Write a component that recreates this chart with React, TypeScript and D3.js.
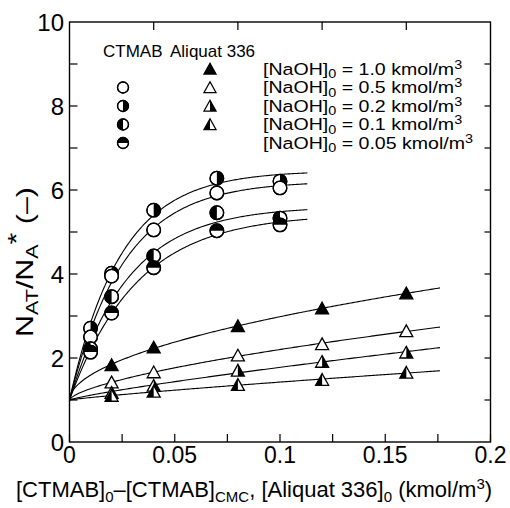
import React from "react";
import * as d3 from "d3";

// ---- data ----
const ctmabX = [0.01, 0.02, 0.04, 0.07, 0.1];
const ctmab02 = [2.71, 4.02, 5.52, 6.28, 6.21]; // [NaOH]0 = 0.2
const ctmab05 = [2.5, 3.95, 5.05, 5.93, 6.05]; // [NaOH]0 = 0.5
const ctmab01 = [2.22, 3.46, 4.43, 5.46, 5.33]; // [NaOH]0 = 0.1
const ctmab005 = [2.14, 3.07, 4.15, 5.03, 5.17]; // [NaOH]0 = 0.05

const aliquatX = [0.02, 0.04, 0.08, 0.12, 0.16];
const aliquat10 = [1.83, 2.25, 2.76, 3.18, 3.54];
const aliquat05 = [1.42, 1.66, 2.06, 2.33, 2.64];
const aliquat02 = [1.17, 1.34, 1.7, 1.91, 2.13];
const aliquat01 = [1.1, 1.2, 1.36, 1.48, 1.65];

const legendConc = ["1.0", "0.5", "0.2", "0.1", "0.05"];
const xTickLabels = [0, 0.05, 0.1, 0.15, 0.2];
const yTickLabels = [0, 2, 4, 6, 8, 10];

const ctmabEnd = 0.113;
const aliquatEnd = 0.176;

// ---- layout ----
const W = 510, H = 508;
const L = 69.5, R = 490.5, T = 22, B = 442;
const FONT = "'Liberation Sans', Arial, Helvetica, sans-serif";

const x = d3.scaleLinear().domain([0, 0.2]).range([L, R]);
const y = d3.scaleLinear().domain([0, 10]).range([B, T]);

// least squares fit y = 1 + A(1-exp(-k x))
function fitExp(xs: number[], ys: number[]) {
  let best = { k: 1, A: 0, e: Infinity };
  for (let k = 1; k <= 150; k += 0.25) {
    let num = 0, den = 0;
    xs.forEach((xv, i) => { const f = 1 - Math.exp(-k * xv); num += f * (ys[i] - 1); den += f * f; });
    const A = num / den;
    let e = 0;
    xs.forEach((xv, i) => { const r = 1 + A * (1 - Math.exp(-k * xv)) - ys[i]; e += r * r; });
    if (e < best.e) best = { k, A, e };
  }
  return (xv: number) => 1 + best.A * (1 - Math.exp(-best.k * xv));
}
// least squares fit y = 1 + a x^n
function fitPow(xs: number[], ys: number[]) {
  let best = { n: 1, a: 0, e: Infinity };
  for (let n = 0.2; n <= 1.2; n += 0.005) {
    let num = 0, den = 0;
    xs.forEach((xv, i) => { const f = Math.pow(xv, n); num += f * (ys[i] - 1); den += f * f; });
    const a = num / den;
    let e = 0;
    xs.forEach((xv, i) => { const r = 1 + a * Math.pow(xv, n) - ys[i]; e += r * r; });
    if (e < best.e) best = { n, a, e };
  }
  return (xv: number) => 1 + best.a * Math.pow(xv, best.n);
}

const line = d3.line<[number, number]>().x(d => x(d[0])).y(d => y(d[1]));
function curvePath(f: (v: number) => number, end: number) {
  const pts: [number, number][] = d3.range(0, 201).map(i => { const v = (end * i) / 200; return [v, f(v)]; });
  return line(pts) || "";
}

type Fill = "open" | "full" | "right" | "left" | "top";

function Circle({ cx, cy, r, fill }: { cx: number; cy: number; r: number; fill: Fill }) {
  let half = "";
  if (fill === "right") half = `M0,${-r} A${r},${r} 0 0 1 0,${r} Z`;
  if (fill === "left") half = `M0,${-r} A${r},${r} 0 0 0 0,${r} Z`;
  if (fill === "top") half = `M${-r},0 A${r},${r} 0 0 1 ${r},0 Z`;
  return (
    <g transform={`translate(${cx},${cy})`}>
      <circle r={r} fill={fill === "full" ? "#000" : "#fff"} stroke="#000" strokeWidth={1.3} />
      {half && <path d={half} fill="#000" />}
      <circle r={r} fill="none" stroke="#000" strokeWidth={1.3} />
    </g>
  );
}

function Tri({ cx, cy, s, fill }: { cx: number; cy: number; s: number; fill: Fill }) {
  const hw = s / 2, top = -s * 0.48, bot = s * 0.42;
  const outline = `M0,${top} L${hw},${bot} L${-hw},${bot} Z`;
  let half = "";
  if (fill === "right") half = `M0,${top} L${hw},${bot} L0,${bot} Z`;
  if (fill === "left") half = `M0,${top} L${-hw},${bot} L0,${bot} Z`;
  return (
    <g transform={`translate(${cx},${cy})`}>
      <path d={outline} fill={fill === "full" ? "#000" : "#fff"} stroke="#000" strokeWidth={1.3} strokeLinejoin="miter" />
      {half && <path d={half} fill="#000" />}
    </g>
  );
}

const ctmabSeries: { ys: number[]; fill: Fill }[] = [
  { ys: ctmab02, fill: "right" },
  { ys: ctmab05, fill: "open" },
  { ys: ctmab01, fill: "left" },
  { ys: ctmab005, fill: "top" },
];
const aliquatSeries: { ys: number[]; fill: Fill }[] = [
  { ys: aliquat10, fill: "full" },
  { ys: aliquat05, fill: "open" },
  { ys: aliquat02, fill: "right" },
  { ys: aliquat01, fill: "left" },
];
const legendCircle: (Fill | null)[] = [null, "open", "right", "left", "top"];
const legendTri: (Fill | null)[] = ["full", "open", "right", "left", null];

export default function App() {
  const bottomTicks = d3.range(0, 0.2001, 0.025);
  const topTicks = d3.range(0.04, 0.2, 0.04);
  const yTicks = d3.range(1, 10, 1);
  const rowY = [69, 87.5, 106, 124.5, 143];
  return (
    <svg width={W} height={H} style={{ position: "absolute", left: 0, top: 0, background: "#fff" }} fontFamily={FONT}>
      <rect x={0} y={0} width={W} height={H} fill="#fff" />
      {/* frame */}
      <rect x={L} y={T} width={R - L} height={B - T} fill="none" stroke="#000" strokeWidth={1.4} />
      {bottomTicks.map((t, i) => (
        <line key={"b" + i} x1={x(t)} x2={x(t)} y1={B} y2={B - 8} stroke="#000" strokeWidth={1.2} />
      ))}
      {topTicks.map((t, i) => (
        <line key={"t" + i} x1={x(t)} x2={x(t)} y1={T} y2={T + 8} stroke="#000" strokeWidth={1.2} />
      ))}
      {yTicks.map((t, i) => (
        <g key={"y" + i}>
          <line x1={L} x2={L + 8} y1={y(t)} y2={y(t)} stroke="#000" strokeWidth={1.2} />
          <line x1={R} x2={R - 6} y1={y(t)} y2={y(t)} stroke="#000" strokeWidth={1.2} />
        </g>
      ))}
      {/* tick labels */}
      {xTickLabels.map((t, i) => (
        <text key={"xl" + i} x={x(t)} y={463} fontSize={23} textAnchor="middle">{String(t)}</text>
      ))}
      {yTickLabels.map((t, i) => (
        <text key={"yl" + i} x={64} y={y(t) + 8.5} fontSize={24} textAnchor="end">{String(t)}</text>
      ))}
      {/* axis titles */}
      <text x={254} y={497} fontSize={22} textAnchor="middle">
        [CTMAB]<tspan fontSize={15} dy={5}>0</tspan>
        <tspan dy={-5}>–[CTMAB]</tspan>
        <tspan fontSize={15} dy={5}>CMC</tspan>
        <tspan dy={-5}>, [Aliquat 336]</tspan>
        <tspan fontSize={15} dy={5}>0</tspan>
        <tspan dy={-5}> (kmol/m</tspan>
        <tspan fontSize={15} dy={-8}>3</tspan>
        <tspan dy={8}>)</tspan>
      </text>
      <text transform="translate(33,262) rotate(-90)" fontSize={24} textAnchor="middle" textLength={150} lengthAdjust="spacingAndGlyphs">
        N<tspan fontSize={17} dy={5}>AT</tspan>
        <tspan dy={-5}>/N</tspan>
        <tspan fontSize={17} dy={5}>A</tspan>
        <tspan dy={-13}>*</tspan>
        <tspan dy={8}> (–)</tspan>
      </text>
      {/* curves */}
      {ctmabSeries.map((s, i) => (
        <path key={"cc" + i} d={curvePath(fitExp(ctmabX, s.ys), ctmabEnd)} fill="none" stroke="#000" strokeWidth={1.1} />
      ))}
      {aliquatSeries.map((s, i) => (
        <path key={"ac" + i} d={curvePath(fitPow(aliquatX, s.ys), aliquatEnd)} fill="none" stroke="#000" strokeWidth={1.1} />
      ))}
      {/* markers */}
      {ctmabSeries.map((s, i) =>
        s.ys.map((v, j) => <Circle key={"c" + i + "-" + j} cx={x(ctmabX[j])} cy={y(v)} r={6.8} fill={s.fill} />)
      )}
      {aliquatSeries.map((s, i) =>
        s.ys.map((v, j) => <Tri key={"a" + i + "-" + j} cx={x(aliquatX[j])} cy={y(v)} s={13} fill={s.fill} />)
      )}
      {/* legend */}
      <text x={103} y={57} fontSize={17}>CTMAB</text>
      <text x={170} y={57} fontSize={17}>Aliquat 336</text>
      {rowY.map((ry, i) => (
        <g key={"lg" + i}>
          {legendCircle[i] && <Circle cx={123} cy={ry} r={5.5} fill={legendCircle[i] as Fill} />}
          {legendTri[i] && <Tri cx={210} cy={ry} s={12} fill={legendTri[i] as Fill} />}
          <text transform={`translate(263,${ry + 5.5}) scale(1.2,1)`} fontSize={16.3}>
            [NaOH]<tspan fontSize={12} dy={3.5}>0</tspan>
            <tspan dy={-3.5}> = {legendConc[i]} kmol/m</tspan>
            <tspan fontSize={12} dy={-6}>3</tspan>
          </text>
        </g>
      ))}
    </svg>
  );
}
